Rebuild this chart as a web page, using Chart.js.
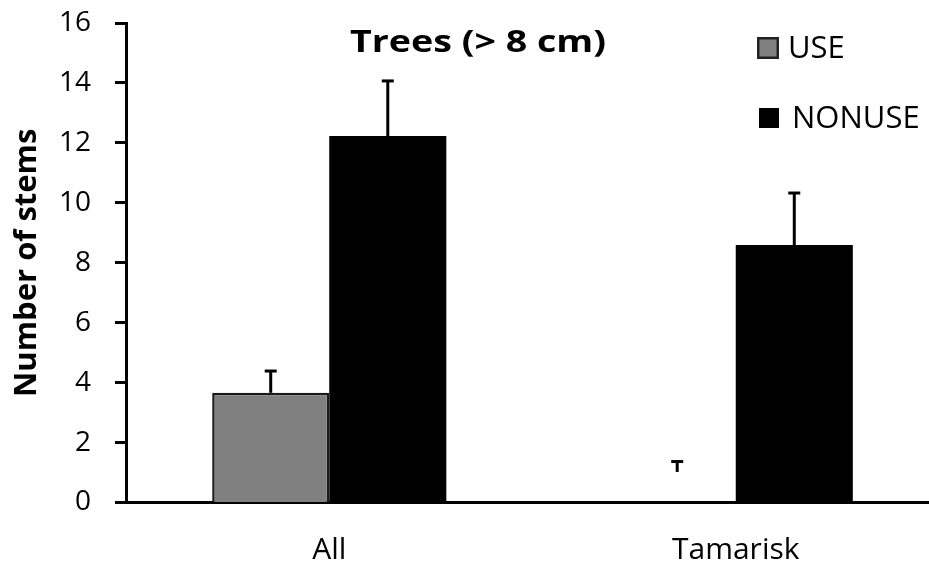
<!DOCTYPE html>
<html>
<head>
<meta charset="utf-8">
<script src="https://cdn.jsdelivr.net/npm/chart.js@4.4.1/dist/chart.umd.min.js"></script>
<style>
  html, body { margin: 0; padding: 0; background: #fff; overflow: hidden; }
  #wrap { position: relative; width: 945px; height: 566px; }
</style>
</head>
<body>
<div id="wrap"><canvas id="c" width="945" height="566"></canvas></div>
<script>
// ---- data ----
const categories = ["All", "Tamarisk"];
const seriesNames = ["USE", "NONUSE"];
const useValues = [3.66, 0];
const nonuseValues = [12.23, 8.59];
// error bars (upper only): stem bottom and cap top
const useErrBottom = [3.66, 1.02];
const useErrTop = [4.42, 1.40];
const nonuseErrBottom = [12.23, 8.59];
const nonuseErrTop = [14.10, 10.36];
const yTicks = [0, 2, 4, 6, 8, 10, 12, 14, 16];
const chartTitle = "Trees (> 8 cm)";
const yAxisTitle = "Number of stems";

const FONT = "'Open Sans', Lato, sans-serif";

const errorBarPlugin = {
  id: 'errorBars',
  afterDatasetsDraw(chart) {
    const ctx = chart.ctx;
    const y = chart.scales.y;
    chart.data.datasets.forEach((ds, di) => {
      const meta = chart.getDatasetMeta(di);
      meta.data.forEach((bar, i) => {
        const lo = ds.errBottom[i], hi = ds.errTop[i];
        if (lo == null || hi == null) return;
        const x = bar.x;
        const yl = y.getPixelForValue(lo);
        const yh = y.getPixelForValue(hi);
        ctx.save();
        ctx.strokeStyle = '#000';
        ctx.lineWidth = 3;
        ctx.beginPath();
        ctx.moveTo(x, yl);
        ctx.lineTo(x, yh);
        ctx.stroke();
        ctx.beginPath();
        ctx.moveTo(x - 6, yh + 1);
        ctx.lineTo(x + 6, yh + 1);
        ctx.stroke();
        ctx.restore();
      });
    });
  }
};

const overlayPlugin = {
  id: 'overlay',
  afterDraw(chart) {
    const ctx = chart.ctx;
    ctx.save();
    // title inside plot (stretched horizontally like the reference)
    ctx.fillStyle = '#000';
    ctx.font = "bold 31px " + FONT;
    ctx.textAlign = 'left';
    ctx.textBaseline = 'alphabetic';
    const w = ctx.measureText(chartTitle).width;
    const targetW = 256, left = 350;
    ctx.translate(left, 52);
    ctx.scale(targetW / w, 1);
    ctx.fillText(chartTitle, 0, 0);
    ctx.restore();
    ctx.save();
    // legend
    const items = [
      { box: [757, 37, 22], textX: 788, cy: 48 },
      { box: [759, 108, 20], textX: 792, cy: 118 }
    ];
    chart.data.datasets.forEach((ds, i) => {
      const it = items[i];
      const [bx, by, bs] = it.box;
      ctx.fillStyle = ds.backgroundColor;
      ctx.fillRect(bx, by, bs, bs);
      if (ds.borderWidth) {
        ctx.strokeStyle = '#222';
        ctx.lineWidth = 2.5;
        ctx.strokeRect(bx + 1.25, by + 1.25, bs - 2.5, bs - 2.5);
      }
      ctx.fillStyle = '#000';
      ctx.font = "31px " + FONT;
      ctx.textAlign = 'left';
      ctx.textBaseline = 'middle';
      ctx.fillText(ds.label, it.textX, it.cy + 1);
    });
    ctx.restore();
  }
};

new Chart(document.getElementById('c'), {
  type: 'bar',
  data: {
    labels: categories,
    datasets: [
      {
        label: seriesNames[0],
        data: useValues,
        errBottom: useErrBottom,
        errTop: useErrTop,
        backgroundColor: '#808080',
        borderColor: '#1a1a1a',
        borderWidth: 2.5,
        borderSkipped: 'bottom',
        barPercentage: 1.0,
        categoryPercentage: 0.576
      },
      {
        label: seriesNames[1],
        data: nonuseValues,
        errBottom: nonuseErrBottom,
        errTop: nonuseErrTop,
        backgroundColor: '#000000',
        borderWidth: 0,
        barPercentage: 1.0,
        categoryPercentage: 0.576
      }
    ]
  },
  options: {
    responsive: false,
    animation: false,
    devicePixelRatio: 1,
    layout: { padding: { top: 23, right: 6, bottom: 0, left: 0 } },
    plugins: {
      legend: { display: false },
      title: { display: false },
      tooltip: { enabled: false }
    },
    scales: {
      x: {
        grid: { display: false, drawTicks: false },
        border: { display: true, color: '#000', width: 3 },
        ticks: {
          color: '#000',
          font: { family: FONT, size: 30 },
          padding: 30
        },
        afterFit(scale) { scale.height = 63.5; }
      },
      y: {
        min: 0,
        max: 16,
        afterBuildTicks(scale) { scale.ticks = yTicks.map(v => ({ value: v })); },
        grid: { drawOnChartArea: false, drawTicks: true, tickLength: 11, tickWidth: 3, color: '#000' },
        border: { display: true, color: '#000', width: 3 },
        ticks: {
          color: '#000',
          font: { family: FONT, size: 28 },
          padding: 24
        },
        title: {
          display: true,
          text: yAxisTitle,
          color: '#000',
          font: { family: FONT, size: 31, weight: 'bold' },
          padding: { top: 9, bottom: 0 }
        },
        afterFit(scale) {
          scale.width = 126;
          scale.paddingTop = 0;
          scale.paddingBottom = 0;
        }
      }
    }
  },
  plugins: [errorBarPlugin, overlayPlugin]
});
</script>
</body>
</html>
